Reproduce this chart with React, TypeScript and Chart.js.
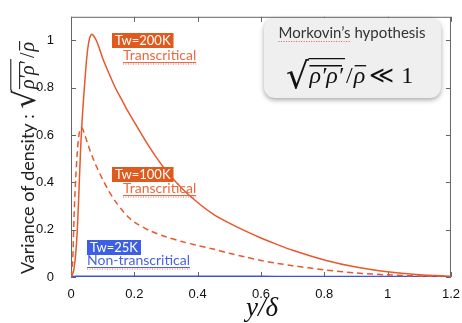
import { useEffect, useRef } from 'react';
import { Chart, registerables } from 'chart.js';

Chart.register(...registerables);

// y/δ positions
const yOverDelta = [0, 0.005, 0.01, 0.015, 0.02, 0.025, 0.03, 0.035, 0.04, 0.045, 0.05, 0.055, 0.06, 0.065, 0.07, 0.08, 0.09, 0.1, 0.12, 0.14, 0.16, 0.18, 0.2, 0.25, 0.3, 0.35, 0.4, 0.45, 0.5, 0.55, 0.6, 0.65, 0.7, 0.8, 0.9, 1.0, 1.1, 1.2];
// Tw=200K (solid)
const tw200K = [0, 0.01, 0.04, 0.1, 0.2, 0.36, 0.53, 0.66, 0.76, 0.85, 0.93, 0.985, 1.015, 1.026, 1.022, 1.0, 0.965, 0.925, 0.86, 0.8, 0.75, 0.7, 0.655, 0.545, 0.45, 0.375, 0.315, 0.265, 0.228, 0.195, 0.165, 0.138, 0.113, 0.072, 0.042, 0.022, 0.01, 0.003];
// Tw=100K (dashed)
const tw100K = [0, 0.06, 0.27, 0.42, 0.53, 0.6, 0.63, 0.63, 0.615, 0.595, 0.575, 0.555, 0.535, 0.518, 0.5, 0.468, 0.44, 0.412, 0.362, 0.32, 0.285, 0.255, 0.232, 0.195, 0.17, 0.15, 0.133, 0.118, 0.1, 0.085, 0.07, 0.058, 0.048, 0.03, 0.017, 0.009, 0.004, 0.001];
// Tw=25K (blue)
const tw25K = [0, 0.001, 0.001, 0.002, 0.002, 0.002, 0.002, 0.002, 0.002, 0.002, 0.002, 0.002, 0.002, 0.002, 0.002, 0.002, 0.002, 0.002, 0.002, 0.002, 0.002, 0.002, 0.002, 0.002, 0.002, 0.002, 0.002, 0.002, 0.002, 0.002, 0.002, 0.001, 0.001, 0.001, 0.001, 0.001, 0.001, 0.0];

const xTicks = [0, 0.2, 0.4, 0.6, 0.8, 1, 1.2];
const yTicks = [0, 0.2, 0.4, 0.6, 0.8, 1];

const ORANGE = '#e8582b';
const ORANGE_BG = '#e05a1e';
const BLUE = '#3a55d8';
const BLUE_BG = '#3c5fe6';

const pts = (ys: number[]) => yOverDelta.map((x, i) => ({ x, y: ys[i] }));
const fmt = (v: number) => String(Number(v.toFixed(2)));

function tagLabel(ctx: CanvasRenderingContext2D, text: string, x: number, y: number, h: number, bg: string) {
  ctx.font = '13px Lato';
  const tw = ctx.measureText(text).width;
  const w = tw + 6;
  ctx.fillStyle = bg;
  ctx.fillRect(x, y, w, h);
  ctx.fillStyle = '#fff';
  ctx.textAlign = 'center';
  ctx.textBaseline = 'middle';
  ctx.fillText(text, x + w / 2, y + h / 2 + 0.5);
}

function underlined(ctx: CanvasRenderingContext2D, text: string, x: number, y: number, color: string) {
  ctx.font = '14px Lato';
  ctx.textAlign = 'left';
  ctx.textBaseline = 'alphabetic';
  ctx.fillStyle = color;
  ctx.fillText(text, x, y);
  const w = ctx.measureText(text).width;
  ctx.strokeStyle = color;
  ctx.lineWidth = 1;
  ctx.beginPath();
  ctx.moveTo(x, y + 2.5);
  ctx.lineTo(x + w, y + 2.5);
  ctx.stroke();
  ctx.strokeStyle = 'rgba(230,40,40,0.7)';
  ctx.setLineDash([1, 1.5]);
  ctx.beginPath();
  ctx.moveTo(x, y + 4);
  ctx.lineTo(x + w, y + 4);
  ctx.stroke();
  ctx.setLineDash([]);
}

// draws √(ρ'ρ')/ρ̄ horizontally starting at x, baseline y; returns end x
function drawFormula(ctx: CanvasRenderingContext2D, x: number, y: number, size: number, color: string, rootDrop: number) {
  ctx.fillStyle = color;
  ctx.strokeStyle = color;
  ctx.textAlign = 'left';
  ctx.textBaseline = 'alphabetic';
  const rootSize = size * 1.5;
  ctx.font = `${rootSize}px "DejaVu Serif"`;
  const rm = ctx.measureText('√');
  ctx.fillText('√', x, y + size * rootDrop);
  const topY = y + size * rootDrop - rm.actualBoundingBoxAscent + 0.8;
  let cx = x + rm.width - 0.5;
  ctx.font = `italic ${size}px "Liberation Serif"`;
  const inner = 'ρ′ρ′';
  const iw = ctx.measureText(inner).width;
  ctx.fillText(inner, cx + 1, y);
  ctx.lineWidth = Math.max(1, size / 18);
  ctx.beginPath();
  ctx.moveTo(cx, topY);
  ctx.lineTo(cx + iw + 3, topY);
  ctx.stroke();
  const ol = y - size * 0.72;
  ctx.beginPath();
  ctx.moveTo(cx + 1, ol);
  ctx.lineTo(cx + iw, ol);
  ctx.stroke();
  cx += iw + 4;
  ctx.font = `${size}px "Liberation Serif"`;
  ctx.fillText('/', cx, y);
  cx += ctx.measureText('/').width + 1;
  ctx.font = `italic ${size}px "Liberation Serif"`;
  const rw = ctx.measureText('ρ').width;
  ctx.fillText('ρ', cx, y);
  ctx.beginPath();
  ctx.moveTo(cx + 1, ol);
  ctx.lineTo(cx + rw + 1, ol);
  ctx.stroke();
  return cx + rw;
}

const overlay = {
  id: 'overlay',
  beforeDatasetsDraw(chart: any) {
    const { ctx, chartArea: a, scales } = chart;
    ctx.save();
    ctx.strokeStyle = '#666';
    ctx.lineWidth = 1;
    ctx.strokeRect(a.left + 0.5, a.top + 0.5, a.right - a.left - 1, a.bottom - a.top - 1);
    const L = 5;
    ctx.beginPath();
    for (const t of xTicks) {
      const px = Math.round(scales.x.getPixelForValue(t)) + 0.5;
      ctx.moveTo(px, a.bottom); ctx.lineTo(px, a.bottom - L);
      ctx.moveTo(px, a.top); ctx.lineTo(px, a.top + L);
    }
    for (const t of yTicks) {
      const py = Math.round(scales.y.getPixelForValue(t)) + 0.5;
      ctx.moveTo(a.left, py); ctx.lineTo(a.left + L, py);
      ctx.moveTo(a.right, py); ctx.lineTo(a.right - L, py);
    }
    ctx.stroke();
    ctx.restore();
  },
  afterDatasetsDraw(chart: any) {
    const { ctx } = chart;
    ctx.save();
    tagLabel(ctx, 'Tw=200K', 112, 33, 15, ORANGE_BG);
    underlined(ctx, 'Transcritical', 123, 60, '#ea6a40');
    tagLabel(ctx, 'Tw=100K', 112, 167, 15, ORANGE_BG);
    underlined(ctx, 'Transcritical', 123, 193, '#ea6a40');
    tagLabel(ctx, 'Tw=25K', 87, 240, 15, BLUE_BG);
    underlined(ctx, 'Non-transcritical', 87, 265, '#4a62e8');

    // Morkovin box
    ctx.save();
    ctx.shadowColor = 'rgba(0,0,0,0.35)';
    ctx.shadowBlur = 5;
    ctx.shadowOffsetY = 2;
    ctx.fillStyle = '#efefef';
    ctx.beginPath();
    ctx.roundRect(264, 18, 177, 80, 11);
    ctx.fill();
    ctx.restore();
    ctx.fillStyle = '#333';
    ctx.font = '15px Lato';
    ctx.textAlign = 'center';
    ctx.textBaseline = 'alphabetic';
    ctx.fillText('Morkovin’s hypothesis', 352, 38);
    const mw = ctx.measureText('Morkovin’s hypothesis').width;
    const mx = 352 - mw / 2;
    const mk = ctx.measureText('Morkovin’s').width;
    ctx.strokeStyle = 'rgba(230,40,40,0.75)';
    ctx.setLineDash([1, 1.5]);
    ctx.beginPath();
    ctx.moveTo(mx, 41.5); ctx.lineTo(mx + mk, 41.5);
    ctx.stroke();
    ctx.setLineDash([]);
    const fe = drawFormula(ctx, 286, 83, 24, '#111', 0.2);
    ctx.font = '24px "DejaVu Serif"';
    ctx.textAlign = 'left';
    ctx.fillText('≪', fe + 4, 83);
    const lw = ctx.measureText('≪').width;
    ctx.font = '24px "Liberation Serif"';
    ctx.fillText('1', fe + 4 + lw + 7, 83);

    // x title
    ctx.fillStyle = '#111';
    ctx.font = 'italic 27px "Liberation Serif"';
    ctx.textAlign = 'center';
    ctx.fillText('y/δ', 262, 316);

    // y title
    ctx.save();
    ctx.translate(34, 274);
    ctx.rotate(-Math.PI / 2);
    ctx.fillStyle = '#222';
    ctx.font = '18px Lato';
    ctx.textAlign = 'left';
    const label = 'Variance of density : ';
    ctx.fillText(label, 0, 0);
    const w = ctx.measureText(label).width;
    drawFormula(ctx, w + 1, 0, 20, '#222', 0.05);
    ctx.restore();

    ctx.restore();
  },
};

export default function App() {
  const ref = useRef<HTMLCanvasElement | null>(null);
  useEffect(() => {
    if (!ref.current) return;
    const tickFont = { family: '"Liberation Sans", Arial, sans-serif', size: 13 };
    const chart = new Chart(ref.current, {
      type: 'line',
      data: {
        datasets: [
          { label: 'Tw=200K', data: pts(tw200K), borderColor: ORANGE, borderWidth: 1.5, pointRadius: 0, tension: 0.3, fill: false },
          { label: 'Tw=100K', data: pts(tw100K), borderColor: ORANGE, borderWidth: 1.5, borderDash: [6, 4], pointRadius: 0, tension: 0.3, fill: false },
          { label: 'Tw=25K', data: pts(tw25K), borderColor: BLUE, borderWidth: 2, pointRadius: 0, tension: 0, fill: false },
        ],
      },
      options: {
        responsive: false,
        animation: false,
        layout: { padding: { top: 9, right: 11, left: 0, bottom: 0 } },
        plugins: { legend: { display: false }, tooltip: { enabled: false } },
        scales: {
          x: {
            type: 'linear',
            min: 0,
            max: 1.2,
            grid: { display: false },
            border: { display: false },
            ticks: { font: tickFont, color: '#111', padding: 2, maxRotation: 0, callback: (v: any) => fmt(Number(v)) },
            afterBuildTicks: (s: any) => { s.ticks = xTicks.map((value) => ({ value })); },
            afterFit: (s: any) => { s.height = 46; },
          },
          y: {
            min: 0,
            max: 1.1,
            grid: { display: false },
            border: { display: false },
            ticks: { font: tickFont, color: '#111', padding: 9, callback: (v: any) => fmt(Number(v)) },
            afterBuildTicks: (s: any) => { s.ticks = yTicks.map((value) => ({ value })); },
            afterFit: (s: any) => { s.width = 71; },
          },
        },
      },
      plugins: [overlay],
    });
    return () => chart.destroy();
  }, []);
  return (
    <div style={{ position: 'fixed', left: 0, top: 0, width: 462, height: 323, background: '#fff' }}>
      <canvas ref={ref} width={462} height={323} style={{ display: 'block', width: 462, height: 323 }} />
    </div>
  );
}
